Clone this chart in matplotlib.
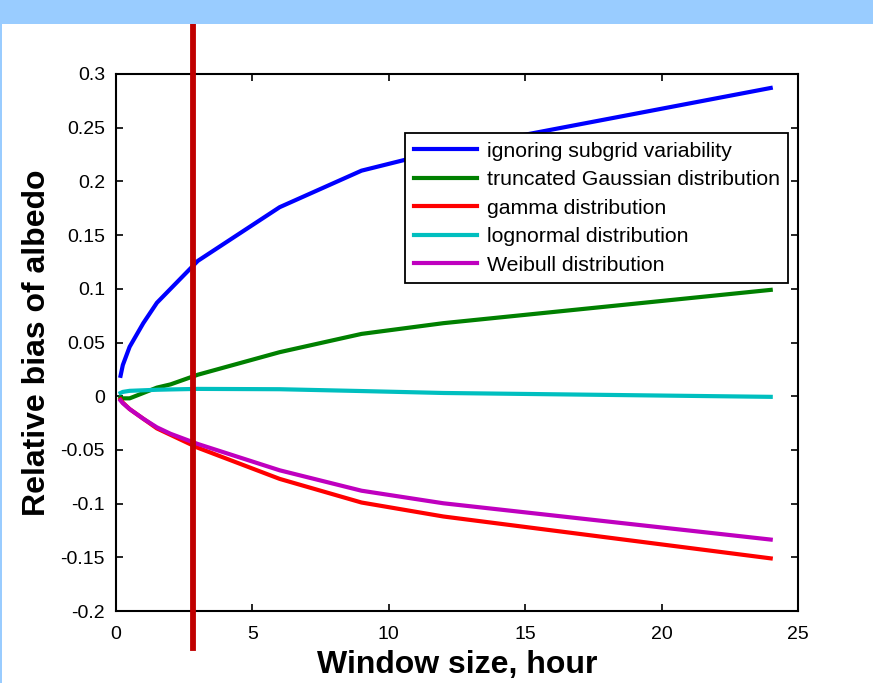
import matplotlib
matplotlib.use("Agg")
import matplotlib.pyplot as plt
from matplotlib.patches import Rectangle
from matplotlib.ticker import FuncFormatter

plt.rcParams["font.family"] = ["Liberation Sans", "DejaVu Sans"]

# window size (hours) and relative albedo bias for each treatment
window_hours = [0.167, 0.25, 0.5, 1, 1.5, 2, 3, 6, 9, 12, 24]
bias_ignoring = [0.019, 0.029, 0.046, 0.068, 0.087, 0.100, 0.126, 0.176, 0.210, 0.229, 0.287]
bias_trunc_gauss = [-0.001, -0.002, -0.002, 0.003, 0.008, 0.011, 0.020, 0.041, 0.058, 0.068, 0.099]
bias_gamma = [-0.003, -0.006, -0.012, -0.021, -0.030, -0.036, -0.048, -0.077, -0.099, -0.112, -0.151]
bias_lognormal = [0.003, 0.004, 0.005, 0.0055, 0.006, 0.0063, 0.0068, 0.0065, 0.0048, 0.003, -0.0006]
bias_weibull = [-0.004, -0.0065, -0.012, -0.021, -0.029, -0.035, -0.0445, -0.069, -0.088, -0.0997, -0.1335]

labels = ["ignoring subgrid variability", "truncated Gaussian distribution",
          "gamma distribution", "lognormal distribution", "Weibull distribution"]
colors = ["#0000FF", "#008000", "#FF0000", "#00BFBF", "#BF00BF"]
series = [bias_ignoring, bias_trunc_gauss, bias_gamma, bias_lognormal, bias_weibull]

marker_window = 2.83  # highlighted window size

fig = plt.figure(figsize=(8.73, 6.83), dpi=100)
# light blue slide band along the top and left edge
fig.patches.append(Rectangle((0, 1 - 24 / 683), 1, 24 / 683, transform=fig.transFigure,
                             facecolor="#99CCFF", edgecolor="none", zorder=0))
fig.patches.append(Rectangle((0, 0), 2 / 873, 1, transform=fig.transFigure,
                             facecolor="#99CCFF", edgecolor="none", zorder=0))

ax = fig.add_axes([116 / 873, 72 / 683, 682 / 873, 537 / 683])
for ys, c, lab in zip(series, colors, labels):
    ax.plot(window_hours, ys, color=c, lw=3.0, label=lab, solid_joinstyle="round")

ax.set_xlim(0, 25)
ax.set_ylim(-0.2, 0.3)
ax.set_xticks([0, 5, 10, 15, 20, 25])
ax.set_yticks([-0.2, -0.15, -0.1, -0.05, 0, 0.05, 0.1, 0.15, 0.2, 0.25, 0.3])
ax.yaxis.set_major_formatter(FuncFormatter(lambda v, p: "0" if abs(v) < 1e-9 else f"{v:g}"))
ax.tick_params(direction="in", top=True, right=True, length=5, width=1.2,
               labelsize=14)
ax.tick_params(axis="y", pad=8)
ax.tick_params(axis="x", pad=11)
for sp in ax.spines.values():
    sp.set_linewidth(1.5)

ax.set_xlabel("Window size, hour", fontsize=23, fontweight="bold", labelpad=5)
ax.set_ylabel("Relative bias of albedo", fontsize=23, fontweight="bold", labelpad=6)

leg = ax.legend(loc="upper right", bbox_to_anchor=(0.986, 0.890), borderaxespad=0,
                fontsize=15.3, fancybox=False, edgecolor="black", framealpha=1,
                handlelength=3.0, handletextpad=0.45, labelspacing=0.45,
                borderpad=0.4)
leg.get_frame().set_linewidth(1.3)

ax.axvline(marker_window, ymin=-0.069, ymax=1.097, color="#C00000", lw=4.2,
           clip_on=False, zorder=5)

fig.savefig("out.png", dpi=100)
